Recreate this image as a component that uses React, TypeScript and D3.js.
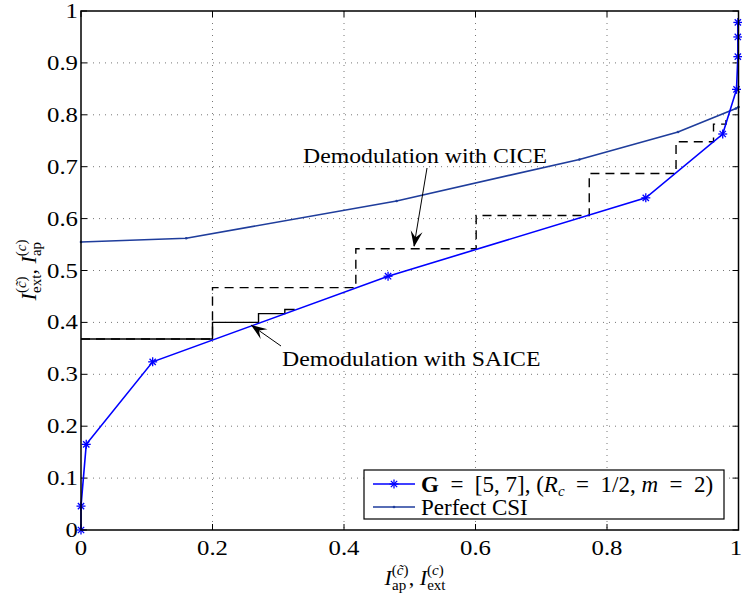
import React from "react";
import * as d3 from "d3";

const gX = [0, 0, 0.008, 0.109, 0.467, 0.859, 0.976, 0.997, 0.999, 0.999, 0.999];
const gY = [0, 0.046, 0.165, 0.324, 0.489, 0.64, 0.763, 0.849, 0.912, 0.95, 0.978];

const csiX = [0, 0.16, 0.48, 0.758, 0.908, 0.996, 1.0];
const csiY = [0.555, 0.562, 0.634, 0.714, 0.767, 0.812, 0.815];

const ciceX = [0, 0.2, 0.2, 0.418, 0.418, 0.601, 0.601, 0.773, 0.773, 0.905, 0.905, 0.962, 0.962, 0.981, 0.981];
const ciceY = [0.368, 0.368, 0.467, 0.467, 0.542, 0.542, 0.606, 0.606, 0.687, 0.687, 0.748, 0.748, 0.782, 0.782, 0.80];

const saiceX = [0, 0.2, 0.2, 0.27, 0.27, 0.31, 0.31, 0.325];
const saiceY = [0.368, 0.368, 0.4, 0.4, 0.417, 0.417, 0.425, 0.425];

const xTicks = [0, 0.2, 0.4, 0.6, 0.8, 1];
const yTicks = [0, 0.1, 0.2, 0.3, 0.4, 0.5, 0.6, 0.7, 0.8, 0.9, 1];

const W = 742, H = 595;
const L = 81, R = 738.5, T = 11, B = 530;
const FONT = "'Liberation Serif', 'DejaVu Serif', serif";
const SP = "\u2002";

export default function App() {
  const x = d3.scaleLinear().domain([0, 1]).range([L, R]);
  const y = d3.scaleLinear().domain([0, 1]).range([B, T]);
  const line = d3.line<[number, number]>().x(d => x(d[0])).y(d => y(d[1]));
  const pts = (xs: number[], ys: number[]) => xs.map((v, i) => [v, ys[i]] as [number, number]);
  const gPts = pts(gX, gY);
  const csiPts = pts(csiX, csiY);
  const star = (cx: number, cy: number, k: string, s = 4.5) => (
    <g key={k} stroke="#0000ff" strokeWidth={1.3}>
      <line x1={cx - s} y1={cy} x2={cx + s} y2={cy} />
      <line x1={cx} y1={cy - s} x2={cx} y2={cy + s} />
      <line x1={cx - s * 0.7} y1={cy - s * 0.7} x2={cx + s * 0.7} y2={cy + s * 0.7} />
      <line x1={cx - s * 0.7} y1={cy + s * 0.7} x2={cx + s * 0.7} y2={cy - s * 0.7} />
    </g>
  );
  const arrowHead = (x1: number, y1: number, x2: number, y2: number) => {
    const a = Math.atan2(y2 - y1, x2 - x1);
    const len = 16, wd = 6;
    const bx = x2 - len * Math.cos(a), by = y2 - len * Math.sin(a);
    const nx = -Math.sin(a), ny = Math.cos(a);
    const mx = x2 - len * 0.6 * Math.cos(a), my = y2 - len * 0.6 * Math.sin(a);
    return `M${x2},${y2} L${bx + nx * wd},${by + ny * wd} L${mx},${my} L${bx - nx * wd},${by - ny * wd} Z`;
  };
  return (
    <svg width={W} height={H} style={{ position: "absolute", left: 0, top: 0, background: "#fff" }} fontFamily={FONT}>
      <rect x={0} y={0} width={W} height={H} fill="#fff" />
      {/* grid */}
      {xTicks.slice(1, -1).map(t => (
        <line key={"gx" + t} x1={x(t)} x2={x(t)} y1={T} y2={B} stroke="#777" strokeWidth={1} strokeDasharray="1,5" />
      ))}
      {yTicks.slice(1, -1).map(t => (
        <line key={"gy" + t} x1={L} x2={R} y1={y(t)} y2={y(t)} stroke="#777" strokeWidth={1} strokeDasharray="1,5" />
      ))}
      {/* ticks */}
      {xTicks.map(t => (
        <g key={"tx" + t}>
          <line x1={x(t)} x2={x(t)} y1={B} y2={B - 6} stroke="#000" />
          <line x1={x(t)} x2={x(t)} y1={T} y2={T + 6} stroke="#000" />
          <text transform={`translate(${Math.min(x(t), 736)},555) scale(1.18,1)`} fontSize={21} textAnchor="middle">{String(t)}</text>
        </g>
      ))}
      {yTicks.map(t => (
        <g key={"ty" + t}>
          <line x1={L} x2={L + 6} y1={y(t)} y2={y(t)} stroke="#000" />
          <line x1={R} x2={R - 6} y1={y(t)} y2={y(t)} stroke="#000" />
          <text transform={`translate(78,${y(t) + 7}) scale(1.18,1)`} fontSize={21} textAnchor="end">{String(t)}</text>
        </g>
      ))}
      {/* curves */}
      <path d={line(pts(ciceX, ciceY)) || ""} fill="none" stroke="#000" strokeWidth={1.4} strokeDasharray="9,6" />
      <path d={line(pts(saiceX, saiceY)) || ""} fill="none" stroke="#000" strokeWidth={1.4} />
      <path d={line(csiPts) || ""} fill="none" stroke="#1f3d9c" strokeWidth={1.6} />
      {csiPts.map((p, i) => <circle key={"c" + i} cx={x(p[0])} cy={y(p[1])} r={1.3} fill="#1f3d9c" />)}
      <path d={line(gPts) || ""} fill="none" stroke="#0000ff" strokeWidth={1.6} />
      {gPts.map((p, i) => star(x(p[0]), y(p[1]), "s" + i))}
      {/* annotations */}
      <text transform="translate(547,163) scale(1.08,1)" fontSize={22} textAnchor="end">Demodulation with CICE</text>
      <line x1={427} y1={168} x2={414} y2={246} stroke="#000" strokeWidth={1} />
      <path d={arrowHead(427, 168, 414, 247)} fill="#000" />
      <text transform="translate(282,366) scale(1.08,1)" fontSize={22}>Demodulation with SAICE</text>
      <line x1={281} y1={346} x2={251} y2={325} stroke="#000" strokeWidth={1} />
      <path d={arrowHead(281, 346, 251, 325)} fill="#000" />
      {/* axes box */}
      <rect x={L} y={T} width={R - L} height={B - T} fill="none" stroke="#000" strokeWidth={1.5} />
      {/* legend */}
      <rect x={364} y={470} width={360} height={49} fill="#fff" stroke="#000" strokeWidth={1.2} />
      <line x1={373} x2={415} y1={484} y2={484} stroke="#0000ff" strokeWidth={1.6} />
      {star(394, 484, "ls")}
      <text x={421} y={492} fontSize={23}>
        <tspan fontWeight="bold">G</tspan>
        <tspan>{`${SP}=${SP}[5, 7], (`}</tspan>
        <tspan fontStyle="italic">R</tspan>
        <tspan fontStyle="italic" fontSize={15} dy={4}>c</tspan>
        <tspan dy={-4}>{`${SP}=${SP}1/2, `}</tspan>
        <tspan fontStyle="italic">m</tspan>
        <tspan>{`${SP}=${SP}2)`}</tspan>
      </text>
      <line x1={373} x2={415} y1={507} y2={507} stroke="#1f3d9c" strokeWidth={1.6} />
      <circle cx={394} cy={507} r={1.3} fill="#1f3d9c" />
      <text x={421} y={515} fontSize={23}>Perfect CSI</text>
      {/* axis labels */}
      <text x={415} y={585} fontSize={22} textAnchor="middle">
        <tspan fontStyle="italic">I</tspan>
        <tspan fontSize={15} dy={-10}>(</tspan>
        <tspan fontSize={15} fontStyle="italic">c̃</tspan>
        <tspan fontSize={15}>)</tspan>
        <tspan fontSize={15} dx={-16.5} dy={15}>ap</tspan>
        <tspan dx={2.5} dy={-5}>, </tspan>
        <tspan fontStyle="italic">I</tspan>
        <tspan fontSize={15} dy={-10}>(</tspan>
        <tspan fontSize={15} fontStyle="italic">c</tspan>
        <tspan fontSize={15}>)</tspan>
        <tspan fontSize={15} dx={-16.5} dy={15}>ext</tspan>
      </text>
      <text transform="translate(36,270) rotate(-90)" fontSize={22} textAnchor="middle">
        <tspan fontStyle="italic">I</tspan>
        <tspan fontSize={15} dy={-10}>(</tspan>
        <tspan fontSize={15} fontStyle="italic">c̃</tspan>
        <tspan fontSize={15}>)</tspan>
        <tspan fontSize={15} dx={-16.5} dy={15}>ext</tspan>
        <tspan dy={-5}>, </tspan>
        <tspan fontStyle="italic">I</tspan>
        <tspan fontSize={15} dy={-10}>(</tspan>
        <tspan fontSize={15} fontStyle="italic">c</tspan>
        <tspan fontSize={15}>)</tspan>
        <tspan fontSize={15} dx={-16.5} dy={15}>ap</tspan>
      </text>
    </svg>
  );
}
